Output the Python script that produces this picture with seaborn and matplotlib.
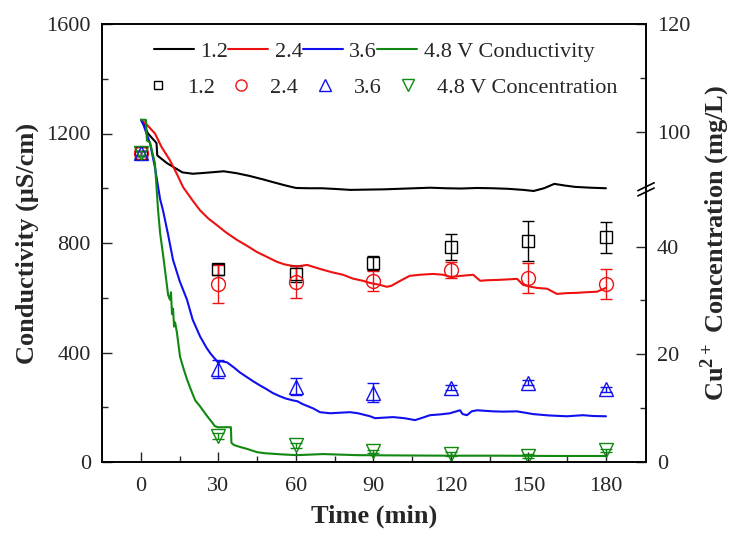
import numpy as np
import pandas as pd
import matplotlib
matplotlib.use('Agg')
import matplotlib.pyplot as plt
import seaborn as sns
from matplotlib.lines import Line2D
from matplotlib.ticker import FixedLocator

# conductivity curves (uS/cm)
t_12 = [0, 1, 2.7, 6.0, 6.3, 10, 13, 16, 20, 23, 27, 32, 37, 42, 47, 52, 56, 60, 65, 70,
        76, 81, 87, 94, 100, 106, 112, 118, 124, 130, 136, 142, 148, 152, 156, 160, 164, 168, 174, 180]
c_12 = [1250, 1235, 1200, 1165, 1120, 1092, 1075, 1058, 1053, 1055, 1058, 1062, 1055, 1045, 1033, 1020,
        1010, 1001, 1000, 1000, 997, 994, 995, 996, 998, 1000, 1002, 1000, 999, 1001, 1000, 998, 994,
        990, 1000, 1016, 1010, 1005, 1002, 1000]

t_24 = [0, 2, 5.4, 8, 11.2, 14, 16.3, 20, 22.8, 26, 29.4, 33, 37.2, 41, 44.9, 49, 52.7, 55.5, 58.8,
        61, 64.3, 67, 70.5, 74, 78.2, 82, 85.9, 88.7, 92, 95.2, 97, 100, 104, 108, 113, 117, 120, 124,
        128.6, 131.3, 134, 137.8, 142, 145.6, 147.9, 151, 153.3, 157.2, 161, 165, 168.8, 172, 176.5, 180]
c_24 = [1250, 1235, 1200, 1150, 1102, 1050, 1004, 955, 920, 890, 865, 838, 811, 790, 767, 748, 731,
        722, 716, 715, 720, 712, 702, 693, 684, 670, 662, 654, 648, 640, 644, 660, 680, 684, 687, 684,
        676, 680, 684, 662, 664, 665, 667, 669, 647, 640, 636, 633, 614, 617, 618, 620, 622, 636]

t_36 = [0, 1, 3.5, 5.4, 7.4, 8.5, 10.5, 12.4, 15, 17.8, 20, 22.8, 25.3, 27, 29.8, 31, 33.3, 36,
        38.3, 41, 43.4, 46, 48.8, 51, 53.8, 56, 58.8, 60.5, 62.7, 66.6, 69.3, 73.2, 77, 80.9, 84,
        88.7, 90.6, 94, 97.6, 102, 106.1, 110, 111.9, 116, 119.6, 123.5, 124.5, 126.2, 128, 130.1,
        136.3, 140, 145.6, 151.8, 158, 164.9, 171.1, 175, 180]
c_36 = [1250, 1230, 1164, 1076, 960, 920, 830, 738, 660, 593, 520, 460, 418, 395, 364, 368, 364,
        345, 327, 310, 295, 280, 265, 252, 240, 232, 225, 222, 211, 196, 182, 178, 180, 182, 178,
        167, 160, 162, 164, 160, 153, 165, 171, 174, 178, 189, 175, 171, 185, 189, 185, 184, 185,
        175, 170, 167, 171, 168, 167]

t_48 = [0, 1.9, 2.3, 3.5, 5.4, 6.6, 7.4, 8.5, 9.3, 10.1, 10.5, 11.2, 11.6, 12.0, 12.4, 12.8, 13.2,
        13.9, 15.1, 16.5, 17.8, 19.7, 21, 22.8, 24.5, 25.9, 27.5, 28.6, 29.8, 32, 34.8, 35.0, 36,
        38.3, 41, 44.9, 48, 52.7, 56, 60.4, 70.5, 83.6, 100, 120, 140, 160, 180]
c_48 = [1250, 1250, 1174, 1167, 1091, 920, 836, 760, 700, 640, 610, 593, 620, 540, 560, 495, 510,
        473, 385, 340, 302, 255, 225, 204, 182, 164, 145, 131, 127, 127, 127, 70, 62, 55, 48, 36,
        32, 29, 27, 25, 29, 25, 24, 23, 23, 22, 22]

# Cu2+ concentration (mg/L) with error bars
conc_t = [0, 30, 60, 90, 120, 150, 180]
cu_12 = [96, 35.8, 34.9, 36.9, 39.9, 41.0, 41.7]
err_12 = [0.5, 1.0, 1.5, 1.3, 2.4, 3.7, 2.9]
cu_24 = [96, 33.0, 33.4, 33.6, 35.6, 34.1, 33.0]
err_24 = [0.5, 3.5, 3.0, 1.9, 1.5, 2.8, 2.8]
cu_36 = [96, 17.2, 14.0, 12.9, 13.8, 14.7, 13.5]
err_36 = [0.5, 1.7, 1.5, 1.7, 0.5, 0.5, 0.5]
cu_48 = [96, 4.8, 3.1, 2.0, 1.5, 1.1, 2.2]
err_48 = [0.5, 0.5, 0.5, 0.3, 0.3, 0.3, 0.3]

voltages = ['1.2', '2.4', '3.6', '4.8']
colors = ['#000000', '#ee1111', '#1010ee', '#118811']
markers = ['s', 'o', '^', 'v']
msizes = [8, 10, 10, 10]

sns.set_style('ticks')
plt.rcParams['font.family'] = ['Liberation Serif', 'DejaVu Serif']
plt.rcParams['mathtext.fontset'] = 'custom'
plt.rcParams['mathtext.rm'] = 'Liberation Serif'
plt.rcParams['mathtext.bf'] = 'Liberation Serif:bold'

frames = []
for v, t, c in zip(voltages, [t_12, t_24, t_36, t_48], [c_12, c_24, c_36, c_48]):
    frames.append(pd.DataFrame({'time': t, 'cond': c, 'voltage': v}))
df = pd.concat(frames, ignore_index=True)

fig = plt.figure(figsize=(7.34, 5.37), dpi=100)
ax = fig.add_axes([102 / 734, 1 - 462 / 537, 544 / 734, 438 / 537])

sns.lineplot(data=df, x='time', y='cond', hue='voltage', palette=colors, estimator=None,
             sort=False, legend=False, linewidth=1.5, ax=ax)

ax.set_xlim(-15.1, 195.5)
ax.set_ylim(0, 1600)
ax.set_xticks([0, 30, 60, 90, 120, 150, 180])
ax.xaxis.set_minor_locator(FixedLocator([15, 45, 75, 105, 135, 165]))
ax.set_yticks([0, 400, 800, 1200, 1600])
ax.yaxis.set_minor_locator(FixedLocator([200, 600, 1000, 1400]))
ax.tick_params(which='both', direction='in', top=False, right=False, labelsize=16, width=1)
ax.tick_params(which='major', length=7)
ax.tick_params(which='minor', length=4)
ax.tick_params(axis='x', which='major', pad=11)
ax.tick_params(axis='y', which='major', pad=8)
ax.set_xlabel('Time (min)', fontsize=19, fontweight='bold', labelpad=6)
ax.set_ylabel('Conductivity (\u03bcS/cm)', fontsize=19, fontweight='bold', labelpad=5)

# right axis with a broken range (50.6 .. 89.3 removed)
gap_lo, gap_hi = 50.6, 89.3
gap = gap_hi - gap_lo


def fwd(c):
    c = np.asarray(c, dtype=float)
    return np.where(c > (gap_lo + gap_hi) / 2, c - gap, c)


def inv(v):
    v = np.asarray(v, dtype=float)
    return np.where(v > gap_lo, v + gap, v)


ax2 = ax.twinx()
ax2.set_yscale('function', functions=(fwd, inv))
for v, y, e, col, mk, ms in zip(voltages, [cu_12, cu_24, cu_36, cu_48], [err_12, err_24, err_36, err_48],
                                colors, markers, msizes):
    ax2.errorbar(conc_t, y, yerr=e, fmt=mk, ms=ms, mfc='none', mec=col, mew=1, ecolor=col,
                 elinewidth=1, capsize=4, capthick=1)
ax2.set_ylim(0, 120)
ax2.yaxis.set_major_locator(FixedLocator([0, 20, 40, 100, 120]))
ax2.yaxis.set_minor_locator(FixedLocator([10, 30, 110]))
ax2.yaxis.set_major_formatter(matplotlib.ticker.FormatStrFormatter('%d'))
ax2.yaxis.set_minor_formatter(matplotlib.ticker.NullFormatter())
ax2.tick_params(which='both', direction='in', labelsize=16, width=1)
ax2.tick_params(which='major', length=7, pad=8)
ax2.tick_params(which='minor', length=4)
ax2.set_ylabel('Cu$^{\\mathbf{2+}}$ Concentration (mg/L)', fontsize=19, fontweight='bold', labelpad=6)

for a in (ax, ax2):
    for s in a.spines.values():
        s.set_linewidth(1.2)
        s.set_color('black')

# break marks on the right spine
yb = fwd(gap_lo + 0.01) / fwd(120)
for off in (-0.006, 0.006):
    ax2.plot([0.985, 1.015], [yb + off - 0.009, yb + off + 0.009], color='black', lw=1.2,
             transform=ax2.transAxes, clip_on=False)

# legends
line_h = [Line2D([], [], color=c, lw=1.5) for c in colors]
leg1 = ax2.legend(line_h, ['1.2', '2.4', '3.6', '4.8 V Conductivity'], ncol=4, frameon=False,
                  loc='center', bbox_to_anchor=(0.5, 0.937), fontsize=16, handlelength=1.8,
                  handletextpad=0.3, columnspacing=0.0, borderpad=0)
ax2.add_artist(leg1)
mark_h = [Line2D([], [], ls='none', marker=m, ms=ms * 0.8, mfc='none', mec=c, mew=1)
          for m, c, ms in zip(markers, colors, msizes)]
ax2.legend(mark_h, ['1.2', '2.4', '3.6', '4.8 V Concentration'], ncol=4, frameon=False,
           loc='center', bbox_to_anchor=(0.515, 0.855), fontsize=16, handlelength=1.0,
           handletextpad=0.8, columnspacing=0.7, borderpad=0)

fig.savefig('out.png', dpi=100)
